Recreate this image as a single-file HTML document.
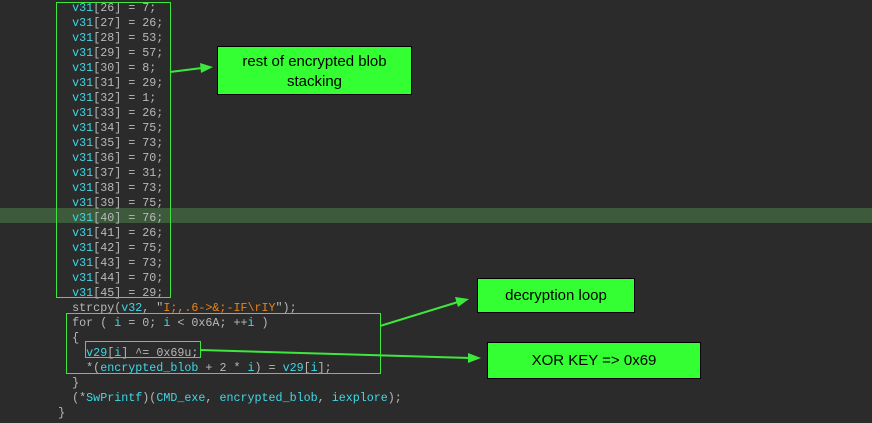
<!DOCTYPE html>
<html><head><style>
body{margin:0;width:872px;height:423px;background:#2b2b2b;overflow:hidden;position:relative;font-family:"Liberation Mono",monospace;}
.l{position:absolute;left:2px;font-size:11.7px;line-height:15px;height:15px;white-space:pre;color:#b8b8b8;}
.c{color:#3fd8e6}.o{color:#e8841c}
.hl{position:absolute;left:0;top:208px;width:872px;height:15px;background:#3d5a3d;}
.box{position:absolute;border:1px solid #3de83d;}
.call{position:absolute;background:#33ff33;border:1px solid #000;color:#000;font-family:"Liberation Sans",sans-serif;font-size:15px;text-align:center;line-height:20px;}
</style></head><body>
<div class="hl"></div>
<div id="code"></div>
<script>
var v=[[26,"7"],[27,"26"],[28,"53"],[29,"57"],[30,"8"],[31,"29"],[32,"1"],[33,"26"],[34,"75"],[35,"73"],[36,"70"],[37,"31"],[38,"73"],[39,"75"],[40,"76"],[41,"26"],[42,"75"],[43,"73"],[44,"70"],[45,"29"]];
var h="";
v.forEach(function(a,i){h+='<div class="l" style="top:'+(i*15+1)+'px">          <span class="c">v31</span>['+a[0]+'] = '+a[1]+';</div>';});
var t=301;
var rest=[
'          strcpy(<span class="c">v32</span>, "<span class="o">I;,.6-&gt;&amp;;-IF\\rIY</span>");',
'          for ( <span class="c">i</span> = 0; <span class="c">i</span> &lt; 0x6A; ++<span class="c">i</span> )',
'          {',
'            <span class="c">v29</span>[<span class="c">i</span>] ^= 0x69u;',
'            *(<span class="c">encrypted_blob</span> + 2 * <span class="c">i</span>) = <span class="c">v29</span>[<span class="c">i</span>];',
'          }',
'          (*<span class="c">SwPrintf</span>)(<span class="c">CMD_exe</span>, <span class="c">encrypted_blob</span>, <span class="c">iexplore</span>);',
'        }'];
rest.forEach(function(s,i){h+='<div class="l" style="top:'+(t+i*15)+'px">'+s+'</div>';});
document.getElementById('code').innerHTML=h;
</script>
<div class="box" style="left:56px;top:2px;width:113px;height:294px"></div>
<div class="box" style="left:66px;top:313px;width:313px;height:59px"></div>
<div class="box" style="left:85px;top:341px;width:114px;height:15px"></div>
<div class="call" style="left:217px;top:46px;width:195px;height:49px;padding-top:5px;box-sizing:border-box;">rest of encrypted blob<br>stacking</div>
<div class="call" style="left:477px;top:278px;width:156px;height:33px;line-height:33px;">decryption loop</div>
<div class="call" style="left:487px;top:342px;width:212px;height:35px;line-height:35px;">XOR KEY =&gt; 0x69</div>
<svg width="872" height="423" style="position:absolute;left:0;top:0">
<g stroke="#3de83d" stroke-width="2" fill="#3de83d">
<line x1="170" y1="72" x2="202" y2="68"/><polygon points="213,67 200,63 201,73" stroke="none"/>
<line x1="380" y1="326" x2="458" y2="302"/><polygon points="469,299 455,297 458,307" stroke="none"/>
<line x1="200" y1="350" x2="470" y2="358"/><polygon points="481,358 468,353 468,363" stroke="none"/>
</g></svg>
</body></html>
